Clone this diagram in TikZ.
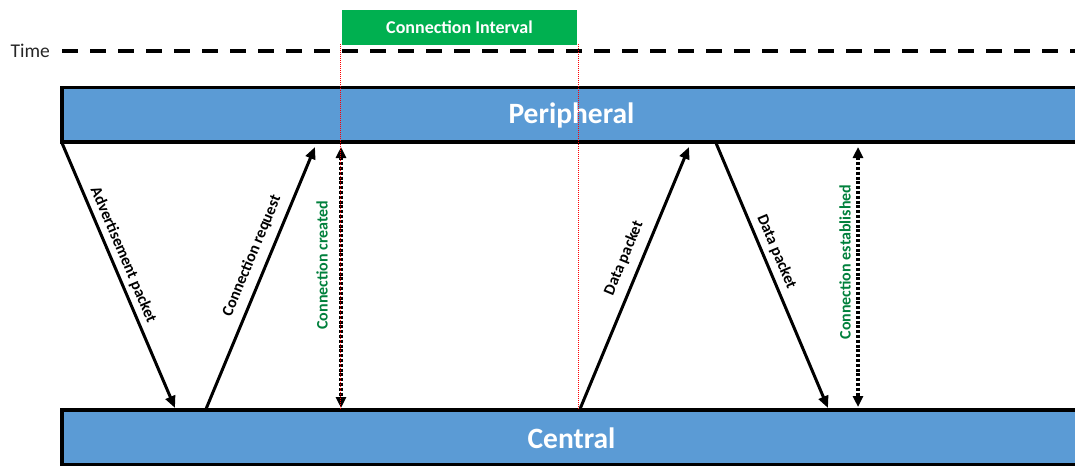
\documentclass[tikz,border=0pt]{standalone}
\usepackage{fontspec}
\setmainfont{Carlito}
\usetikzlibrary{arrows.meta}
\definecolor{barblue}{HTML}{5B9BD5}
\definecolor{boxgreen}{HTML}{00B050}
\definecolor{txtgreen}{RGB}{0,128,60}
\tikzset{
  bar/.style={draw=black, line width=3.5pt, fill=barblue, minimum width=1018pt, minimum height=54.5pt, inner sep=0pt},
  bartext/.style={text=white, font=\bfseries\fontsize{29.5}{30}\selectfont},
  msg/.style={draw=black, line width=3pt, -{Triangle[length=12pt,width=10pt]}},
  span/.style={draw=black, line width=3.5pt, dash pattern=on 3pt off 1.8pt, {Triangle[length=11pt,width=10pt]}-{Triangle[length=11pt,width=10pt]}},
  lbl/.style={font=\bfseries\fontsize{16}{17}\selectfont, sloped},
  glbl/.style={font=\bfseries\fontsize{16}{17}\selectfont, text=txtgreen, rotate=90, inner sep=1pt},
  redline/.style={draw=red, line width=0.9pt, dash pattern=on 1pt off 1pt},
}
\begin{document}
\begin{tikzpicture}[x=1pt,y=-1pt]
\clip (0,0) rectangle (1075,466);
\fill[white] (0,0) rectangle (1075,466);
% time axis
\node[anchor=east, font=\fontsize{19.5}{21}\selectfont, text=black!85, inner sep=0pt] (time) at (50,51) {Time};
\coordinate (tstart) at (62,51);
\coordinate (tend) at (1080,51);
\draw[line width=3.5pt, dash pattern=on 16pt off 12pt] (tstart) -- (tend);
% connection interval box
\node[fill=boxgreen, minimum width=235pt, minimum height=35pt, inner sep=0pt, text=white, font=\bfseries\fontsize{18}{20}\selectfont] (ci) at (459.5,27) {Connection Interval};
% bars
\node[bar] (per) at (571,114.75) {};
\node[bartext] (pertext) at (571.5,115) {Peripheral};
\node[bar] (cen) at (571,437) {};
\node[bartext] (centext) at (571.5,438) {Central};
% endpoints
\coordinate (a1) at (62,143);   \coordinate (a2) at (175,408);
\coordinate (b1) at (206,409);  \coordinate (b2) at (315,147);
\coordinate (c1) at (341,147);  \coordinate (c2) at (341,408);
\coordinate (d1) at (580,409);  \coordinate (d2) at (689,147);
\coordinate (e1) at (716,143);  \coordinate (e2) at (828,408);
\coordinate (f1) at (858,147);  \coordinate (f2) at (858,407);
\coordinate (r1t) at (340,44);  \coordinate (r1b) at (340,409);
\coordinate (r2t) at (578,44);  \coordinate (r2b) at (578,409);
% messages
\draw[msg] (a1) -- node[lbl, above, inner sep=4pt, pos=0.44] {Advertisement packet} (a2);
\draw[msg] (b1) -- node[lbl, above, inner sep=8pt, pos=0.56] {Connection request} (b2);
\draw[msg] (d1) -- node[lbl, above, inner sep=9pt, pos=0.55] {Data packet} (d2);
\draw[msg] (e1) -- node[lbl, above, inner sep=5pt, pos=0.43] {Data packet} (e2);
% spans
\draw[span] (c1) -- (c2);
\draw[span] (f1) -- (f2);
\node[glbl] (cc) at (322,265) {Connection created};
\node[glbl] (ce) at (845,262) {Connection established};
% red markers
\draw[redline] (r1t) -- (r1b);
\draw[redline] (r2t) -- (r2b);
\end{tikzpicture}
\end{document}
